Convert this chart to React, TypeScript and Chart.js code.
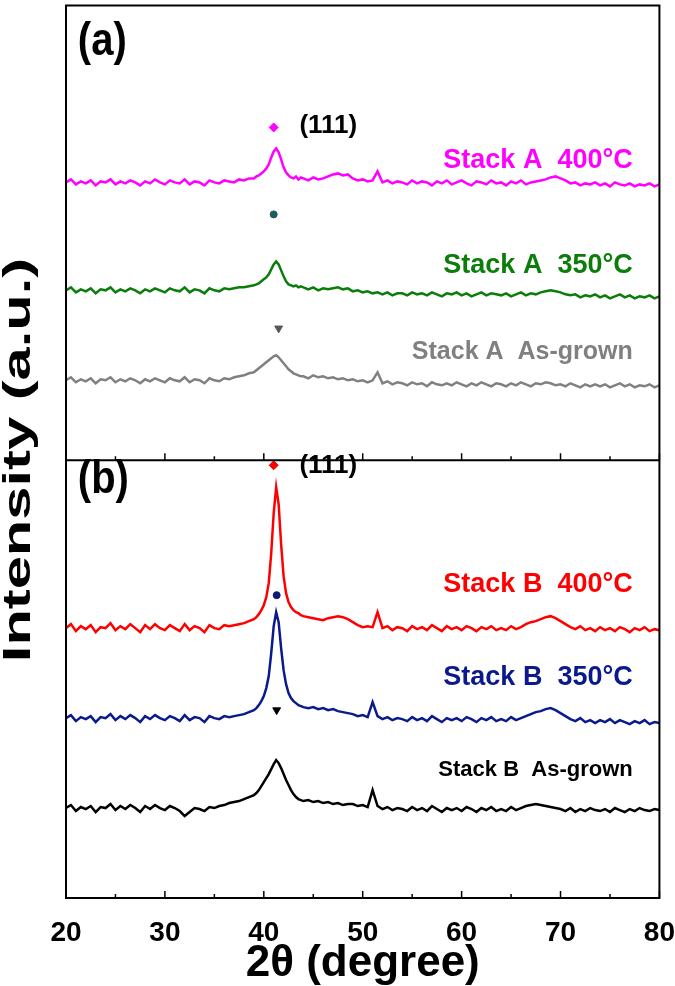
import React, { useEffect, useRef } from 'react';
import { Chart, registerables } from 'chart.js';

Chart.register(...registerables);

// 2θ positions (degree)
const twoTheta = [
  20, 20.5, 21, 21.5, 22, 22.5, 23, 23.5, 24, 24.5,
  25, 25.5, 26, 26.5, 27, 27.5, 28, 28.5, 29, 29.5,
  30, 30.5, 31, 31.5, 32, 32.5, 33, 33.5, 34, 34.5,
  35, 35.5, 36, 36.5, 37, 37.5, 38, 38.5,
  39, 39.25, 39.5, 39.75, 40, 40.25, 40.5, 40.75, 41, 41.25,
  41.5, 41.75, 42, 42.25, 42.5, 42.75, 43, 43.25, 43.5, 43.75,
  44, 44.5, 45, 45.5, 46, 46.5, 47, 47.5, 48, 48.5,
  49, 49.5, 50, 50.5, 51, 51.5, 52, 52.5, 53, 53.5,
  54, 54.5, 55, 55.5, 56, 56.5, 57, 57.5, 58, 58.5,
  59, 59.5, 60, 60.5, 61, 61.5, 62, 62.5, 63, 63.5,
  64, 64.5, 65, 65.5, 66, 66.5, 67, 67.5, 68, 68.5,
  69, 69.5, 70, 70.5, 71, 71.5, 72, 72.5, 73, 73.5,
  74, 74.5, 75, 75.5, 76, 76.5, 77, 77.5, 78, 78.5,
  79, 79.5, 80,
];

// Stacked (offset) intensities, a.u.
const stackA400 = [
  716, 719, 714, 717, 715, 718, 713, 717, 716, 719,
  714, 717, 715, 718, 716, 713, 717, 715, 719, 716,
  714, 718, 716, 715, 719, 714, 717, 716, 713, 718,
  716, 715, 718, 717, 716, 719, 718, 720,
  720, 722, 723, 725, 727, 730, 734, 741, 747, 750,
  746, 739, 731, 726, 723, 721, 720, 722, 719, 721,
  720, 718, 721, 719, 720, 722, 724, 725, 723, 724,
  720, 718, 719, 717, 718, 727, 716, 718, 715, 717,
  716, 714, 718, 715, 717, 716, 713, 717, 715, 718,
  714, 716, 718, 715, 713, 717, 716, 714, 718, 715,
  716, 713, 717, 715, 718, 714, 716, 717, 718, 719,
  721, 722, 720, 718, 715, 716, 713, 715, 714, 716,
  713, 715, 712, 716, 714, 713, 715, 712, 714, 713,
  715, 712, 714,
];
const stackA350 = [
  608, 611, 606, 609, 607, 610, 605, 609, 608, 611,
  606, 609, 607, 610, 608, 605, 609, 607, 610, 608,
  606, 610, 608, 607, 611, 606, 609, 608, 605, 610,
  608, 607, 610, 609, 610, 611, 611, 612,
  613, 614, 615, 617, 619, 621, 624, 629, 634, 637,
  634, 628, 622, 617, 614, 613, 612, 613, 611, 612,
  611, 609, 611, 608, 610, 609, 610, 611, 609, 610,
  607, 608, 606, 607, 605, 606, 604, 606, 603, 605,
  605, 603, 606, 604, 605, 603, 606, 604, 602, 605,
  604, 606, 603, 605, 602, 604, 606, 603, 605, 604,
  603, 605, 602, 604, 606, 603, 605, 604, 606, 607,
  608, 607, 606, 604, 603, 604, 601, 603, 602, 604,
  601, 603, 600, 602, 604, 601, 603, 600, 602, 601,
  603, 600, 602,
];
const stackAAsGrown = [
  518, 521, 516, 519, 517, 520, 515, 519, 518, 521,
  516, 519, 517, 520, 518, 515, 519, 517, 520, 518,
  516, 520, 518, 517, 521, 516, 519, 518, 515, 520,
  518, 517, 520, 519, 521, 522, 523, 525,
  526, 528, 530, 532, 534, 536, 538, 540, 542, 543,
  541, 538, 535, 532, 529, 527, 525, 524, 523, 522,
  522, 520, 523, 521, 522, 520, 521, 519, 520, 518,
  519, 517, 518, 516, 518, 526, 515, 517, 514, 516,
  515, 513, 516, 514, 515, 512, 516, 514, 513, 515,
  513, 516, 514, 512, 515, 513, 516, 514, 512, 515,
  514, 512, 515, 513, 516, 514, 512, 515, 514, 516,
  515, 513, 514, 512, 515, 513, 511, 514, 512, 514,
  512, 514, 511, 513, 515, 512, 514, 511, 513, 512,
  514, 511, 513,
];
const stackB400 = [
  270, 274, 267, 272, 269, 273, 266, 271, 270, 275,
  268, 272, 269, 274, 270, 266, 273, 269, 274, 270,
  268, 273, 270, 267, 274, 268, 272, 270, 266, 273,
  270, 269, 273, 272, 273, 274, 275, 277,
  279, 281, 284, 288, 293, 301, 315, 345, 385, 411,
  394, 354, 322, 305, 296, 291, 288, 286, 285, 283,
  282, 281, 280, 279, 278, 280, 281, 282, 281, 279,
  276, 273, 271, 272, 271, 286, 270, 272, 268, 271,
  270, 267, 272, 269, 271, 268, 273, 270, 267, 272,
  269, 271, 268, 272, 270, 267, 271, 269, 272, 268,
  270, 268, 272, 269, 271, 274, 276, 277, 279, 281,
  282, 280, 277, 274, 271, 269, 272, 268, 270, 267,
  271, 268, 270, 267, 271, 269, 266, 270, 268, 271,
  267, 269, 268,
];
const stackB350 = [
  180, 183, 177, 181, 179, 182, 176, 181, 180, 184,
  178, 182, 179, 183, 180, 176, 182, 179, 183, 180,
  178, 182, 180, 177, 183, 178, 181, 180, 176, 182,
  180, 179, 182, 181, 182, 183, 184, 186,
  188, 190, 193, 197, 202, 210, 222, 245, 272, 286,
  276, 250, 228, 214, 205, 200, 197, 195, 193, 192,
  191, 190, 191, 189, 190, 188, 189, 187, 186, 185,
  184, 182, 183, 181, 196, 182, 179, 181, 178, 180,
  179, 177, 181, 178, 180, 177, 182, 179, 176, 180,
  178, 180, 177, 181, 179, 176, 180, 178, 181, 177,
  179, 177, 181, 178, 180, 182, 184, 186, 187, 189,
  190, 188, 185, 182, 179, 177, 180, 176, 178, 175,
  178, 176, 179, 175, 178, 176, 174, 177, 175, 178,
  174, 176, 175,
];
const stackBAsGrown = [
  90, 93, 87, 91, 89, 92, 86, 91, 90, 94,
  88, 92, 89, 93, 90, 86, 92, 89, 93, 90,
  88, 92, 90, 87, 82, 86, 90, 89, 87, 91,
  90, 92, 93, 95, 96, 97, 99, 101,
  103, 105, 108, 112, 116, 120, 124, 129, 134, 138,
  135, 130, 124, 118, 113, 108, 104, 101, 99, 98,
  97, 98, 96, 97, 95, 96, 94, 95, 93, 94,
  94, 92, 93, 91, 108, 92, 89, 91, 88, 90,
  89, 87, 91, 88, 90, 87, 92, 89, 86, 90,
  88, 90, 87, 91, 89, 86, 90, 88, 91, 87,
  89, 87, 91, 88, 90, 92, 93, 94, 93, 92,
  91, 90, 89, 87, 90, 86, 89, 87, 90, 88,
  87, 89, 86, 90, 88, 86, 89, 87, 90, 88,
  87, 89, 88,
];

const seriesValues = [stackA400, stackA350, stackAAsGrown, stackB400, stackB350, stackBAsGrown];
const seriesNames = ['Stack A  400°C', 'Stack A  350°C', 'Stack A  As-grown', 'Stack B  400°C', 'Stack B  350°C', 'Stack B  As-grown'];
const seriesColors = ['#ff00ff', '#0b7d0b', '#808080', '#ff0000', '#0a1a8c', '#000000'];

// (111) peak markers
const markerX = [41, 41, 41.5, 41, 41.3, 41.3];
const markerY = [771, 684, 570, 433, 303, 188];
const markerStyles = ['rectRot', 'circle', 'triangle', 'rectRot', 'circle', 'triangle'];
const markerColors = ['#ff00ff', '#1f5c5c', '#555555', '#ff0000', '#0d1b6e', '#000000'];

// series label anchors (right aligned), in data units
const labelX = 77.3;
const labelY = [738, 633, 546, 314, 221, 128];
const labelSizes = [27, 27, 25, 27, 27, 22];

const hklText = '(111)';
const hklX = [43.6, 43.6];
const hklY = [773, 432];

const panelNames = ['(a)', '(b)'];
const panelY = [856, 418];
const panelX = 21.2;

const dividerValue = 438;
const xMajorTicks = [20, 30, 40, 50, 60, 70, 80];
const xMinorTicks = [25, 35, 45, 55, 65, 75];

const yTitle = 'Intensity (a.u.)';
const xTitle = '2θ (degree)';

const FONT = "'Liberation Sans', Arial, Helvetica, sans-serif";

export default function App() {
  const ref = useRef<HTMLCanvasElement | null>(null);

  useEffect(() => {
    document.body.style.margin = '0';
    const canvas = ref.current;
    if (!canvas) return;

    const lineSets = seriesValues.map((vals, i) => ({
      type: 'line' as const,
      label: seriesNames[i],
      data: vals.map((v, j) => ({ x: twoTheta[j], y: v })),
      borderColor: seriesColors[i],
      borderWidth: 2.5,
      pointRadius: 0,
      tension: 0,
      fill: false,
    }));
    const markerSets = markerX.map((mx, i) => ({
      type: 'scatter' as const,
      label: 'm' + i,
      data: [{ x: mx, y: markerY[i] }],
      pointStyle: markerStyles[i],
      pointRotation: markerStyles[i] === 'triangle' ? 180 : 0,
      pointRadius: markerStyles[i] === 'circle' ? 3.5 : 4.5,
      backgroundColor: markerColors[i],
      borderColor: markerColors[i],
      borderWidth: 1,
      showLine: false,
    }));

    const overlay = {
      id: 'overlay',
      afterDatasetsDraw(chart: any) {
        const { ctx, chartArea } = chart;
        const xs = chart.scales.x;
        const ys = chart.scales.y;
        ctx.save();
        ctx.strokeStyle = '#000';
        ctx.lineWidth = 2;
        ctx.strokeRect(chartArea.left, chartArea.top, chartArea.right - chartArea.left, chartArea.bottom - chartArea.top);
        const divY = ys.getPixelForValue(dividerValue);
        ctx.beginPath();
        ctx.moveTo(chartArea.left, divY);
        ctx.lineTo(chartArea.right, divY);
        ctx.stroke();
        ctx.lineWidth = 1.5;
        [divY, chartArea.bottom].forEach((base) => {
          xMajorTicks.forEach((t) => {
            const px = xs.getPixelForValue(t);
            ctx.beginPath();
            ctx.moveTo(px, base);
            ctx.lineTo(px, base - 7);
            ctx.stroke();
          });
          xMinorTicks.forEach((t) => {
            const px = xs.getPixelForValue(t);
            ctx.beginPath();
            ctx.moveTo(px, base);
            ctx.lineTo(px, base - 4);
            ctx.stroke();
          });
        });
        ctx.textBaseline = 'middle';
        ctx.textAlign = 'right';
        seriesNames.forEach((name, i) => {
          ctx.fillStyle = seriesColors[i];
          ctx.font = `bold ${labelSizes[i]}px ${FONT}`;
          ctx.fillText(name, xs.getPixelForValue(labelX), ys.getPixelForValue(labelY[i]));
        });
        ctx.textAlign = 'left';
        ctx.fillStyle = '#000';
        ctx.font = `bold 26px ${FONT}`;
        hklX.forEach((hx, i) => {
          ctx.fillText(hklText, xs.getPixelForValue(hx), ys.getPixelForValue(hklY[i]));
        });
        panelNames.forEach((p, i) => {
          ctx.save();
          ctx.translate(xs.getPixelForValue(panelX), ys.getPixelForValue(panelY[i]));
          ctx.scale(1, 1.15);
          ctx.font = `bold 40px ${FONT}`;
          ctx.fillText(p, 0, 0);
          ctx.restore();
        });
        // y axis title (elongated, rotated)
        ctx.save();
        ctx.translate(20, 460);
        ctx.rotate(-Math.PI / 2);
        ctx.scale(1.57, 1);
        ctx.textAlign = 'center';
        ctx.font = `bold 38px ${FONT}`;
        ctx.fillText(yTitle, 0, 0);
        ctx.restore();
        ctx.restore();
      },
    };

    const chart = new Chart(canvas, {
      type: 'line',
      data: { datasets: [...lineSets, ...markerSets] as any },
      options: {
        animation: false,
        responsive: false,
        layout: { padding: { left: 0, right: 15, top: 5, bottom: 0 } },
        plugins: { legend: { display: false }, tooltip: { enabled: false } },
        scales: {
          x: {
            type: 'linear',
            min: 20,
            max: 80,
            afterFit: (s: any) => { s.height = 88; },
            ticks: { stepSize: 10, padding: 0, color: '#000', font: { family: FONT, size: 28, weight: 'bold', lineHeight: 2.5 } },
            grid: { display: false, drawTicks: false },
            border: { display: false },
            title: { display: true, text: xTitle, color: '#000', padding: { top: 0, bottom: 0 }, font: { family: FONT, size: 44, weight: 'bold', lineHeight: 1 } },
          },
          y: {
            type: 'linear',
            min: 0,
            max: 893,
            afterFit: (s: any) => { s.width = 66; },
            ticks: { display: false },
            grid: { display: false, drawTicks: false },
            border: { display: false },
            title: { display: false },
          },
        },
      },
      plugins: [overlay],
    });
    return () => chart.destroy();
  }, []);

  return (
    <div style={{ width: 675, height: 986 }}>
      <canvas ref={ref} width={675} height={986} style={{ display: 'block' }} />
    </div>
  );
}
